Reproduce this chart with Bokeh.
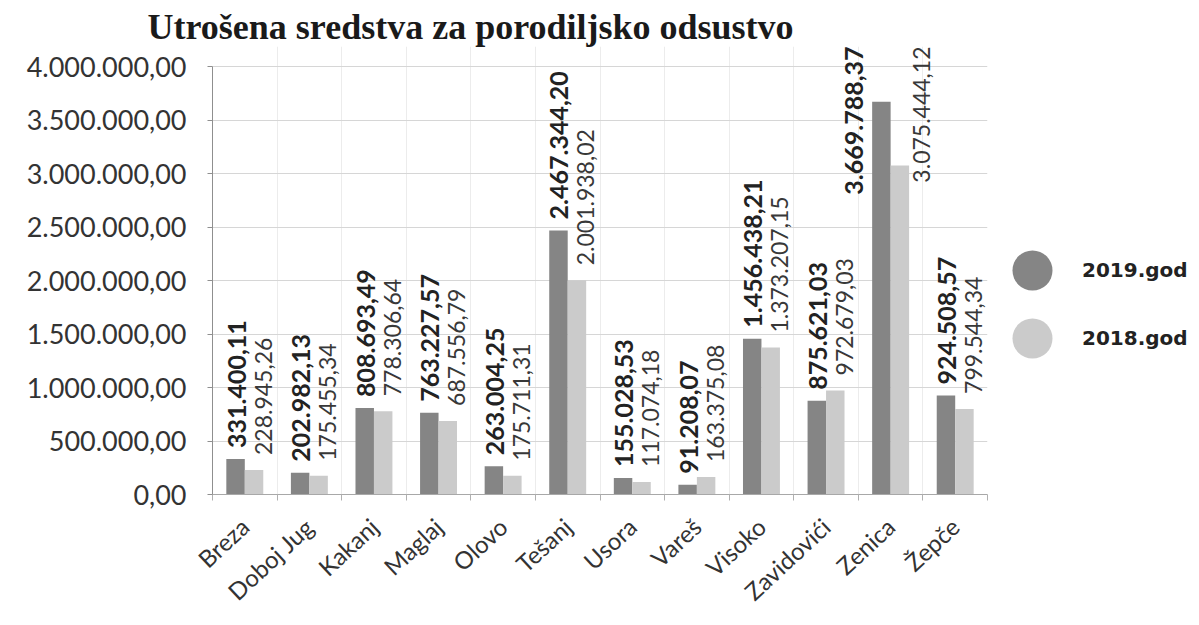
import math
from bokeh.plotting import figure
from bokeh.layouts import row
from bokeh.models import (Range1d, FixedTicker, CustomJSTickFormatter, ColumnDataSource,
                          LabelSet, Legend, LegendItem)
from bokeh.core.properties import value
from bokeh.embed import file_html
from bokeh.resources import INLINE

# ---------------- data ----------------
categories = ["Breza", "Doboj Jug", "Kakanj", "Maglaj", "Olovo", "Tešanj",
              "Usora", "Vareš", "Visoko", "Zavidovići", "Zenica", "Žepče"]
values_2019 = [331400.11, 202982.13, 808693.49, 763227.57, 263004.25, 2467344.20,
               155028.53, 91208.07, 1456438.21, 875621.03, 3669788.37, 924508.57]
values_2018 = [228945.26, 175455.34, 778306.64, 687556.79, 175711.31, 2001938.02,
               117074.18, 163375.08, 1373207.15, 972679.03, 3075444.12, 799544.34]
series_names = ["2019.god", "2018.god"]
y_ticks = [0, 500000, 1000000, 1500000, 2000000, 2500000, 3000000, 3500000, 4000000]
title_text = "Utrošena sredstva za porodiljsko odsustvo"

# ---------------- style / layout ----------------
W1, W2, H = 990, 205, 622
AXIS_H = 428          # pixel height of the 0 .. 4.000.000 span
LIMIT_PX = 20         # room above the top gridline for data labels
BL, BR, BB = 212, 3, 128
BT = H - BB - AXIS_H - LIMIT_PX
C19, C18 = "#858585", "#cbcbcb"
BAR_W = 0.286
px_per_unit = AXIS_H / (y_ticks[-1] - y_ticks[0])
y_end = y_ticks[-1] + LIMIT_PX / px_per_unit


def fmt(v):
    s = f"{v:,.2f}"
    return s.replace(",", "X").replace(".", ",").replace("X", ".")


def label_len(txt, size):
    d = sum(c.isdigit() for c in txt)
    return size * (0.58 * d + 0.25 * (len(txt) - d))


p = figure(width=W1, height=H, x_range=Range1d(0, len(categories)),
           y_range=Range1d(y_ticks[0], y_end),
           output_backend="svg", toolbar_location=None,
           min_border_left=BL, min_border_right=BR, min_border_top=BT, min_border_bottom=BB,
           title=title_text)
p.outline_line_color = None
p.background_fill_color = "white"
p.border_fill_color = "white"

p.title.text_font = "Liberation Serif"
p.title.text_font_size = "36px"
p.title.text_font_style = "bold"
p.title.text_color = "#1a1a1a"
p.title.align = "left"
p.title.offset = -65
p.title.standoff = 0

xs19 = [i + 0.5 - BAR_W / 2 for i in range(len(categories))]
xs18 = [i + 0.5 + BAR_W / 2 for i in range(len(categories))]

p.vbar(x=xs19, top=values_2019, width=BAR_W, fill_color=C19, line_color=None)
p.vbar(x=xs18, top=values_2018, width=BAR_W, fill_color=C18, line_color=None)

# axes
p.yaxis.ticker = FixedTicker(ticks=y_ticks)
p.yaxis.bounds = (y_ticks[0], y_ticks[-1])
p.yaxis.formatter = CustomJSTickFormatter(code="""
const s = tick.toFixed(2); const parts = s.split('.');
return parts[0].replace(/\\B(?=(\\d{3})+(?!\\d))/g, '.') + ',' + parts[1];
""")
p.yaxis.major_label_text_font = "Lato"
p.yaxis.major_label_text_font_size = "27px"
p.yaxis.major_label_text_color = "#333333"
p.yaxis.axis_line_color = "#8f8f8f"
p.yaxis.major_tick_line_color = "#8f8f8f"
p.yaxis.major_tick_out = 5
p.yaxis.major_tick_in = 0
p.yaxis.minor_tick_line_color = None
p.yaxis.major_label_standoff = 21

p.xaxis.ticker = FixedTicker(ticks=[i + 0.5 for i in range(len(categories))],
                             minor_ticks=list(range(len(categories) + 1)))
p.xaxis.formatter = CustomJSTickFormatter(args=dict(cats=categories), code="""
const i = Math.floor(tick); return (i >= 0 && i < cats.length) ? cats[i] : '';
""")
p.xaxis.major_label_orientation = 0.75
p.xaxis.major_label_text_font = "Lato"
p.xaxis.major_label_text_font_size = "24px"
p.xaxis.major_label_text_color = "#333333"
p.xaxis.major_tick_line_color = None
p.xaxis.major_tick_out = 0
p.xaxis.major_tick_in = 0
p.xaxis.minor_tick_line_color = "#b0b0b0"
p.xaxis.minor_tick_out = 6
p.xaxis.minor_tick_in = 0
p.xaxis.axis_line_color = "#a8a8a8"
p.xaxis.major_label_standoff = 22

p.ygrid.grid_line_color = "#d6d6d6"
p.xgrid.grid_line_color = None
p.xgrid.minor_grid_line_color = "#ececec"

# data labels
specs = [
    (values_2019, xs19, 25, "bold", "#222222", 1, -27, 11),
    (values_2018, xs18, 23, "normal", "#383838", 9, 22, 15),
]
for vals, xs, size, style, color, dx_n, dx_c, gap in specs:
    norm = dict(x=[], y=[], t=[])
    clmp = dict(x=[], y=[], t=[])
    for x, v in zip(xs, vals):
        t = fmt(v)
        if v * px_per_unit + gap + label_len(t, size) > AXIS_H + LIMIT_PX:
            clmp["x"].append(x); clmp["y"].append(y_end); clmp["t"].append(t)
        else:
            norm["x"].append(x); norm["y"].append(v); norm["t"].append(t)
    common = dict(text="t", angle=math.pi / 2, text_baseline="middle",
                  text_font=value("Lato"), text_font_size=value(f"{size}px"),
                  text_font_style=value(style), text_color=value(color))
    p.add_layout(LabelSet(x="x", y="y", source=ColumnDataSource(norm), text_align="left",
                          x_offset=dx_n, y_offset=gap, **common))
    p.add_layout(LabelSet(x="x", y="y", source=ColumnDataSource(clmp), text_align="right",
                          x_offset=dx_c, y_offset=0, **common))

# ---------------- legend panel ----------------
lg = figure(width=W2, height=H, x_range=Range1d(0, 1), y_range=Range1d(0, 1),
            output_backend="svg", toolbar_location=None,
            x_axis_type=None, y_axis_type=None,
            min_border_left=0, min_border_right=0, min_border_top=0, min_border_bottom=0)
lg.outline_line_color = None
lg.grid.visible = False
lg.background_fill_color = "white"
lg.border_fill_color = "white"
s19 = lg.scatter(x=xs19, y=values_2019, size=0, marker="circle", fill_color=C19, line_color=None)
s18 = lg.scatter(x=xs18, y=values_2018, size=0, marker="circle", fill_color=C18, line_color=None)

leg_style = dict(glyph_width=100, glyph_height=100, label_standoff=0,
                 padding=0, margin=0, border_line_color=None, background_fill_alpha=0,
                 label_text_font="DejaVu Sans", label_text_font_style="bold",
                 label_text_font_size="20px", label_text_color="#222222")
lg.add_layout(Legend(items=[LegendItem(label=series_names[0], renderers=[s19])],
                     location=(-8, 174), **leg_style))
lg.add_layout(Legend(items=[LegendItem(label=series_names[1], renderers=[s18])],
                     location=(-8, 106), **leg_style))

open("out.html", "w").write(file_html(row(p, lg), INLINE))
